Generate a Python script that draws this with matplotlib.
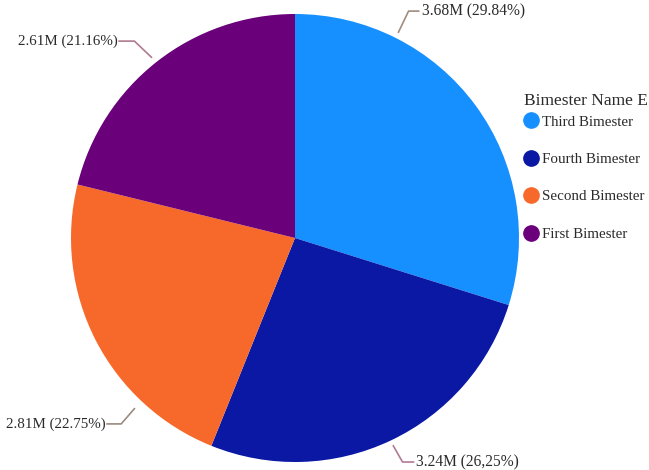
import matplotlib.pyplot as plt
from matplotlib.lines import Line2D

plt.rcParams['font.family'] = ['Liberation Serif', 'DejaVu Serif']

categories = ['Third Bimester', 'Fourth Bimester', 'Second Bimester', 'First Bimester']
percents = [29.84, 26.25, 22.75, 21.16]
labels = ['3.68M (29.84%)', '3.24M (26,25%)', '2.81M (22.75%)', '2.61M (21.16%)']
colors = ['#1790FF', '#0B18A3', '#F7692B', '#6A007A']
line_colors = ['#a08c80', '#b07a98', '#9a8a80', '#b07a90']

fig = plt.figure(figsize=(6.49, 4.70), dpi=100)
cx, cy, r = 295, 238, 224
ax = fig.add_axes([(cx - r) / 649, (470 - cy - r) / 470, 2 * r / 649, 2 * r / 470])

wedges, _ = ax.pie(percents, colors=colors, startangle=90, counterclock=False,
                   radius=1, wedgeprops=dict(linewidth=0))
ax.set_xlim(-1, 1)
ax.set_ylim(-1, 1)
ax.set_aspect('equal')
ax.axis('off')

# leader lines: start near the rim, elbow, horizontal run, then the text
leaders = [
    [(0.462, 0.919), (0.507, 1.013), (0.552, 1.013)],
    [(0.439, -0.928), (0.480, -1.0), (0.529, -1.0)],
    [(-0.717, -0.762), (-0.776, -0.830), (-0.839, -0.830)],
    [(-0.641, 0.807), (-0.717, 0.879), (-0.785, 0.879)],
]
for pts, lab, lc in zip(leaders, labels, line_colors):
    xs, ys = zip(*pts)
    ax.plot(xs, ys, color=lc, lw=1.2, clip_on=False)
    ex, ey = pts[-1]
    if ex > 0:
        ax.text(ex + 0.013, ey, lab, ha='left', va='center', fontsize=11.2,
                color='#2a2a2a', clip_on=False)
    else:
        ax.text(ex - 0.008, ey, lab, ha='right', va='center', fontsize=10.8,
                color='#2a2a2a', clip_on=False)

fig.text(524 / 649, 1 - 101 / 470, 'Bimester Name E', ha='left', va='center',
         fontsize=12.5, color='#2a2a2a')
handles = [Line2D([], [], marker='o', linestyle='none', markersize=11,
                  markerfacecolor=c, markeredgecolor=c) for c in colors]
leg = fig.legend(handles, categories, loc='upper left',
                 bbox_to_anchor=(525 / 649, 1 - 115 / 470), frameon=False,
                 fontsize=10.8, handlelength=0.8, handletextpad=0.35,
                 labelspacing=1.6, borderaxespad=0, borderpad=0)
for t in leg.get_texts():
    t.set_color('#2a2a2a')

fig.savefig('out.png', dpi=100)
